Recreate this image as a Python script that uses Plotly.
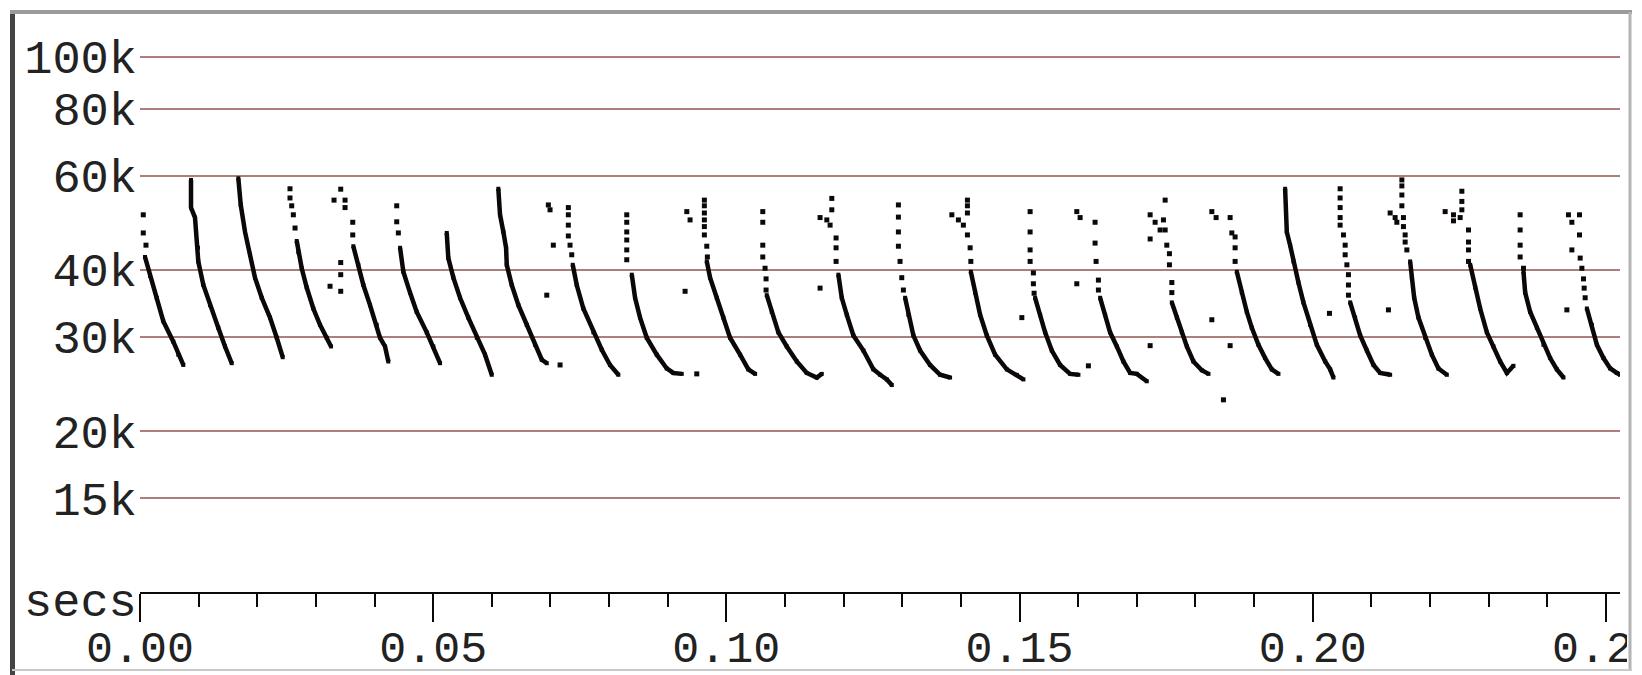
import plotly.graph_objects as go

# Bat call sweeps: time in seconds, frequency in kHz.
# sweep_* hold the dense (continuous-looking) part of each call,
# dot_* hold the isolated dots of the same call (upper part and strays).
sweep_t = [
    [0.00085, 0.00171, 0.00285, 0.00397, 0.00568, 0.00653, 0.00739],
    [0.00870, 0.00870, 0.00938, 0.00989, 0.00994, 0.01080, 0.01194, 0.01335, 0.01450, 0.01564],
    [0.01677, 0.01718, 0.01791, 0.01876, 0.01961, 0.02076, 0.02217, 0.02332, 0.02434],
    [0.02673, 0.02700, 0.02758, 0.02843, 0.02956, 0.03070, 0.03184, 0.03258],
    [0.03638, 0.03723, 0.03809, 0.03923, 0.04037, 0.04093, 0.04179, 0.04235],
    [0.04435, 0.04491, 0.04605, 0.04719, 0.04890, 0.05003, 0.05117],
    [0.05231, 0.05258, 0.05344, 0.05458, 0.05599, 0.05743, 0.05884, 0.05999],
    [0.06111, 0.06140, 0.06197, 0.06243, 0.06255, 0.06340, 0.06453, 0.06596, 0.06737, 0.06852, 0.06937],
    [0.07380, 0.07448, 0.07561, 0.07732, 0.07875, 0.08016, 0.08158],
    [0.08387, 0.08443, 0.08528, 0.08642, 0.08813, 0.08983, 0.09096, 0.09239],
    [0.09666, 0.09722, 0.09836, 0.09949, 0.10063, 0.10234, 0.10375, 0.10490],
    [0.10689, 0.10774, 0.10887, 0.11030, 0.11201, 0.11371, 0.11542, 0.11627],
    [0.11910, 0.11968, 0.12054, 0.12166, 0.12337, 0.12507, 0.12622, 0.12736, 0.12821],
    [0.13048, 0.13104, 0.13189, 0.13304, 0.13474, 0.13645, 0.13815],
    [0.14169, 0.14242, 0.14327, 0.14441, 0.14583, 0.14783, 0.14953, 0.15066],
    [0.15265, 0.15351, 0.15436, 0.15550, 0.15692, 0.15862, 0.16004],
    [0.16374, 0.16459, 0.16544, 0.16659, 0.16771, 0.16886, 0.16999, 0.17170],
    [0.17597, 0.17682, 0.17767, 0.17853, 0.17965, 0.18108, 0.18222],
    [0.18705, 0.18790, 0.18876, 0.18961, 0.19074, 0.19188, 0.19302, 0.19415],
    [0.19529, 0.19558, 0.19614, 0.19671, 0.19756, 0.19841, 0.19956, 0.20070, 0.20212, 0.20297, 0.20353],
    [0.20638, 0.20723, 0.20809, 0.20923, 0.21036, 0.21150, 0.21264, 0.21320],
    [0.21661, 0.21690, 0.21730, 0.21803, 0.21917, 0.22031, 0.22144, 0.22287],
    [0.22685, 0.22770, 0.22855, 0.22969, 0.23082, 0.23196, 0.23311, 0.23423],
    [0.23594, 0.23623, 0.23708, 0.23822, 0.23935, 0.24049, 0.24163, 0.24276],
    [0.24675, 0.24760, 0.24846, 0.24958, 0.25073, 0.25187, 0.25243],
]
sweep_khz = [
    [42.3, 39.0, 35.5, 32.1, 29.4, 27.8, 26.6],
    [58.9, 52.3, 50.1, 44.0, 41.5, 37.5, 34.4, 31.2, 28.8, 26.8],
    [59.3, 52.9, 47.1, 42.7, 38.7, 35.5, 32.6, 29.9, 27.5],
    [45.3, 43.2, 40.3, 37.1, 33.9, 31.6, 29.9, 28.8],
    [44.3, 40.9, 37.5, 34.4, 31.6, 29.9, 28.8, 27.0],
    [44.0, 39.7, 36.3, 33.4, 30.6, 28.8, 26.8],
    [46.9, 42.1, 38.7, 35.5, 32.6, 29.9, 27.8, 25.5],
    [56.7, 50.7, 47.1, 44.0, 40.9, 37.5, 34.4, 31.6, 29.0, 27.2, 26.8],
    [40.9, 37.5, 33.9, 30.6, 28.4, 26.6, 25.5],
    [39.2, 35.5, 32.6, 29.9, 27.8, 26.2, 25.7, 25.6],
    [41.5, 38.7, 35.5, 32.6, 29.9, 27.8, 26.1, 25.6],
    [35.9, 33.4, 30.6, 28.8, 27.0, 25.7, 25.2, 25.6],
    [39.2, 35.5, 33.0, 30.2, 28.3, 26.1, 25.5, 25.0, 24.4],
    [35.5, 33.0, 30.2, 28.3, 26.6, 25.5, 25.2],
    [39.7, 36.3, 33.0, 30.2, 27.8, 26.1, 25.5, 25.0],
    [35.5, 33.0, 30.6, 28.3, 26.6, 25.6, 25.5],
    [35.5, 33.0, 30.6, 28.8, 27.0, 25.7, 25.6, 24.8],
    [34.8, 32.6, 30.6, 28.8, 27.0, 26.0, 25.6],
    [39.7, 36.3, 33.4, 31.2, 29.0, 27.4, 26.1, 25.6],
    [56.7, 47.1, 44.5, 41.5, 37.9, 34.8, 31.6, 29.0, 27.0, 26.1, 25.2],
    [34.8, 32.6, 30.2, 28.3, 26.6, 25.7, 25.6, 25.5],
    [41.5, 38.7, 35.5, 32.6, 29.9, 27.8, 26.2, 25.5],
    [40.9, 37.1, 33.9, 30.6, 28.8, 27.0, 25.7, 26.5],
    [39.7, 36.3, 33.4, 31.2, 29.0, 27.4, 26.1, 25.2],
    [33.9, 31.6, 29.0, 27.4, 26.2, 25.7, 25.5],
]
dot_t = [
    [0.00056, 0.00056, 0.00102],
    [],
    [],
    [0.02558, 0.02558, 0.02587, 0.02615, 0.02644],
    [0.03423, 0.03309, 0.03497, 0.03497, 0.03628, 0.03628, 0.03423, 0.03423, 0.03241, 0.03423],
    [0.04378, 0.04378, 0.04406],
    [],
    [0.07164, 0.07049, 0.06937, 0.06964, 0.06993],
    [0.07305, 0.07305, 0.07305, 0.07305, 0.07334, 0.07363],
    [0.08301, 0.08301, 0.08301, 0.08301, 0.08301, 0.08301, 0.09495],
    [0.09625, 0.09625, 0.09625, 0.09625, 0.09625, 0.09625, 0.09666, 0.09676, 0.09325, 0.09381, 0.09296],
    [0.10621, 0.10621, 0.10621, 0.10621, 0.10660, 0.10677, 0.10677],
    [0.11798, 0.11798, 0.11598, 0.11713, 0.11769, 0.11871, 0.11871, 0.11871, 0.11598],
    [0.12934, 0.12934, 0.12934, 0.12934, 0.12962, 0.12991, 0.13019],
    [0.14111, 0.14111, 0.14111, 0.13845, 0.13957, 0.14042, 0.14111, 0.14157, 0.14169],
    [0.15180, 0.15180, 0.15180, 0.15180, 0.15236, 0.15236, 0.15248, 0.15039, 0.16174],
    [0.15976, 0.16033, 0.16288, 0.16288, 0.16305, 0.16345, 0.16345, 0.15976],
    [0.17483, 0.17227, 0.17312, 0.17454, 0.17397, 0.17483, 0.17227, 0.17511, 0.17556, 0.17556,
     0.17597, 0.17597, 0.17227, 0.18279, 0.18477],
    [0.18279, 0.18352, 0.18591, 0.18620, 0.18676, 0.18676, 0.18676, 0.18591],
    [0.20285],
    [0.20467, 0.20467, 0.20467, 0.20467, 0.20467, 0.20524, 0.20553, 0.20553, 0.20582, 0.20609,
     0.20609, 0.20609, 0.21291],
    [0.21520, 0.21520, 0.21520, 0.21520, 0.21320, 0.21405, 0.21434, 0.21547, 0.21547, 0.21576,
     0.21576, 0.21605],
    [0.22543, 0.22543, 0.22543, 0.22258, 0.22400, 0.22400, 0.22514, 0.22656, 0.22656, 0.22656, 0.22656],
    [0.23537, 0.23537, 0.23537, 0.23537, 0.23594, 0.24334],
    [0.24361, 0.24419, 0.24549, 0.24549, 0.24419, 0.24561, 0.24590, 0.24617, 0.24629, 0.24646],
]
dot_khz = [
    [50.7, 46.9, 44.5],
    [],
    [],
    [56.7, 54.5, 52.7, 50.7, 47.9],
    [56.6, 54.0, 54.0, 52.3, 49.1, 46.5, 41.3, 39.2, 37.3, 36.5],
    [52.7, 49.2, 46.9],
    [],
    [26.6, 44.5, 35.9, 52.9, 51.8],
    [52.3, 50.7, 48.5, 46.3, 44.5, 42.7],
    [50.7, 49.1, 47.1, 45.5, 43.6, 41.8, 25.6],
    [54.0, 52.7, 51.1, 49.6, 48.2, 46.5, 44.3, 42.3, 51.4, 49.6, 36.5],
    [51.4, 49.1, 44.5, 42.3, 40.3, 38.5, 36.7],
    [54.4, 51.8, 50.1, 49.6, 48.5, 45.9, 44.0, 41.5, 37.0],
    [52.9, 50.2, 47.1, 44.3, 41.5, 38.7, 36.7],
    [54.0, 52.7, 51.1, 50.7, 49.6, 48.5, 46.5, 44.0, 41.5],
    [51.4, 47.1, 43.6, 41.5, 39.5, 37.7, 36.2, 32.6, 26.5],
    [51.4, 50.1, 49.1, 44.9, 41.5, 38.3, 36.7, 37.7],
    [54.0, 50.7, 49.1, 49.6, 47.5, 47.5, 45.7, 44.5, 42.9, 40.9, 37.9, 36.3, 28.9, 32.3, 22.9],
    [51.4, 50.1, 50.1, 46.9, 46.1, 44.0, 41.5, 28.9],
    [33.2],
    [56.7, 54.5, 52.3, 50.1, 48.5, 46.5, 44.5, 42.7, 40.9, 39.2, 37.5, 35.9, 33.7],
    [58.9, 57.4, 55.2, 52.7, 51.1, 50.1, 49.1, 50.1, 48.2, 46.5, 45.1, 43.6],
    [56.1, 53.7, 51.8, 51.4, 50.7, 49.4, 50.1, 47.5, 45.1, 43.6, 41.5],
    [50.7, 47.5, 44.5, 42.3, 40.3, 33.7],
    [50.7, 49.1, 50.7, 46.5, 43.6, 42.1, 40.3, 38.5, 37.0, 35.5],
]

y_tick_vals = [15, 20, 30, 40, 60, 80, 100]
y_tick_text = ["15k", "20k", "30k", "40k", "60k", "80k", "100k"]

# page layout (window is 1642x675, page body has an 8px margin)
PAGE_W, PAGE_H, BODY = 1642, 675, 8
L, R, T, B = 140, 1620, 13, 592  # plot area in page pixels
W, H = PAGE_W - BODY, PAGE_H - BODY
INK = "#0c0808"
GRID = "#ad7f7a"
FONT = {"family": "Liberation Mono, Cousine, monospace", "size": 47, "color": "#222222"}
XFONT = dict(FONT, size=45)


def px(x):
    return (x - L) / (R - L)


def py(y):
    return (B - y) / (B - T)


fig = go.Figure()

for ts, fs in zip(sweep_t, sweep_khz):
    fig.add_trace(
        go.Scatter(
            x=ts, y=fs, mode="lines+markers",
            line={"color": INK, "width": 4.5},
            marker={"symbol": "square", "size": 4, "color": INK},
            hoverinfo="skip",
        )
    )

for ts, fs in zip(dot_t, dot_khz):
    if not ts:
        continue
    fig.add_trace(
        go.Scatter(
            x=ts, y=fs, mode="markers",
            marker={"symbol": "square", "size": 5, "color": INK, "line": {"width": 0}},
            hoverinfo="skip",
        )
    )

# window frame around the sonogram, and the clipped right edge
shapes = [
    {"type": "rect", "xref": "paper", "yref": "paper", "x0": px(1627), "x1": px(1650),
     "y0": py(560), "y1": py(690), "fillcolor": "white", "line": {"width": 0}, "layer": "above"},
    {"type": "line", "xref": "paper", "yref": "paper", "x0": px(12.5), "x1": px(12.5),
     "y0": py(10), "y1": py(675), "line": {"color": "#444444", "width": 5}, "layer": "above"},
    {"type": "line", "xref": "paper", "yref": "paper", "x0": px(10), "x1": px(1632),
     "y0": py(12), "y1": py(12), "line": {"color": "#9a9a9a", "width": 4}, "layer": "above"},
    {"type": "line", "xref": "paper", "yref": "paper", "x0": px(1630), "x1": px(1630),
     "y0": py(12), "y1": py(670), "line": {"color": "#b4b4b4", "width": 3}, "layer": "above"},
    {"type": "line", "xref": "paper", "yref": "paper", "x0": px(12), "x1": px(1632),
     "y0": py(670), "y1": py(670), "line": {"color": "#c8c8c8", "width": 2}, "layer": "above"},
]

fig.update_layout(
    width=W,
    height=H,
    margin={"l": L - BODY, "r": W - (R - BODY), "t": T - BODY, "b": H - (B - BODY), "autoexpand": False},
    plot_bgcolor="white",
    paper_bgcolor="white",
    showlegend=False,
    shapes=shapes,
    annotations=[
        {"text": "secs", "xref": "paper", "yref": "paper", "x": px(139), "y": py(603),
         "xanchor": "right", "yanchor": "middle", "showarrow": False, "font": FONT},
    ],
    xaxis={
        "range": [0, 0.2524],
        "tick0": 0,
        "dtick": 0.05,
        "tickformat": ".2f",
        "ticks": "outside",
        "ticklen": 28,
        "tickwidth": 2,
        "tickcolor": INK,
        "showline": True,
        "linecolor": INK,
        "linewidth": 2,
        "showgrid": False,
        "zeroline": False,
        "automargin": False,
        "ticklabeloverflow": "allow",
        "ticklabelstandoff": -14,
        "tickfont": XFONT,
        "minor": {"dtick": 0.01, "ticks": "outside", "ticklen": 13, "tickwidth": 2,
                  "tickcolor": INK, "showgrid": False},
    },
    yaxis={
        "type": "log",
        "range": [1.0013, 2.0815],
        "tickvals": y_tick_vals,
        "ticktext": y_tick_text,
        "ticks": "",
        "showline": False,
        "zeroline": False,
        "showgrid": True,
        "gridcolor": GRID,
        "gridwidth": 2,
        "automargin": False,
        "tickfont": FONT,
        "ticklabelstandoff": 2,
    },
)

fig.write_html("out.html")
